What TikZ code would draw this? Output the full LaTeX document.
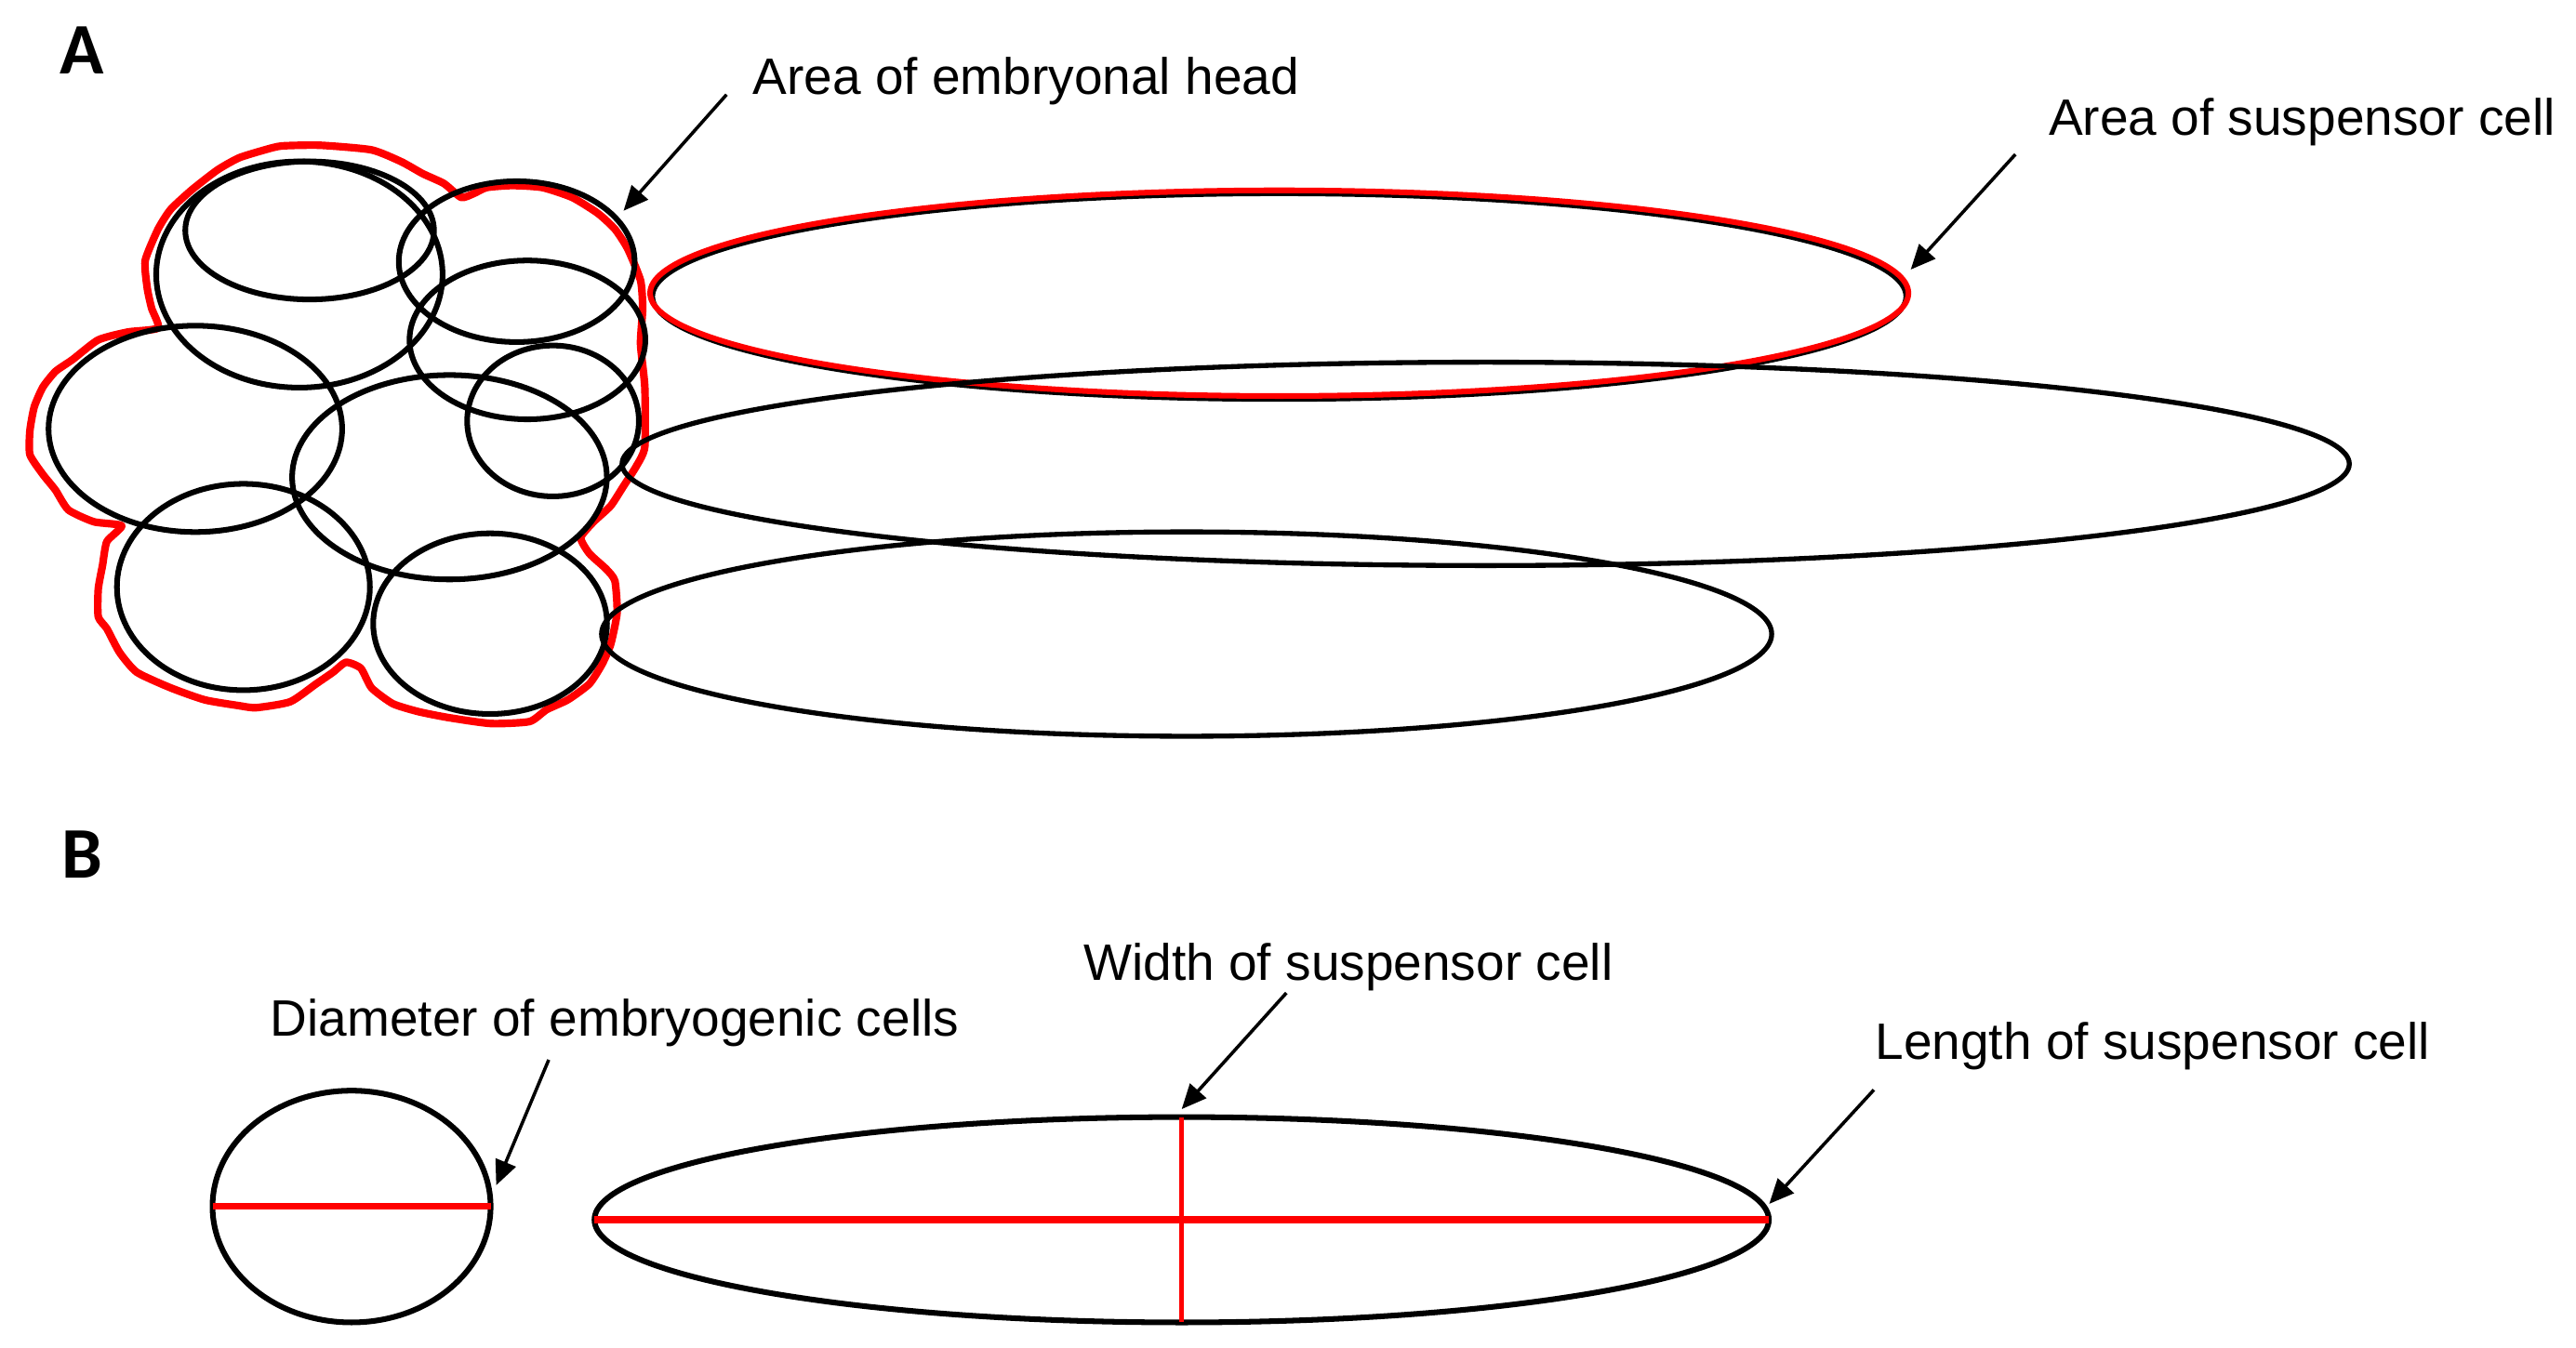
\documentclass[tikz,border=0pt]{standalone}
\usepackage{fontspec}
\setmainfont{Liberation Sans}
\newfontfamily\panelfont{Carlito}
\usetikzlibrary{arrows.meta}
\definecolor{pured}{RGB}{255,0,0}
\tikzset{
  cell/.style={draw=black, line width=3.4pt},
  longcell/.style={draw=black, line width=3pt},
  outline/.style={draw=pured, line width=4.6pt, line join=round},
  redbar/.style={draw=pured, line width=4pt},
  redbarthin/.style={draw=pured, line width=2.8pt},
  lbl/.style={inner sep=0pt, anchor=base west, font=\fontsize{31}{37}\selectfont},
  panel/.style={inner sep=0pt, anchor=base west, font=\panelfont\bfseries\fontsize{44}{50}\selectfont},
  pointer/.style={draw=black, line width=2pt, -{Triangle[length=15pt,width=13pt]}}
}
\begin{document}
\begin{tikzpicture}[x=1pt,y=-1pt]
\useasboundingbox (0,0) rectangle (1560,816.6);
% panel labels
\node[panel] (pA) at (36,45) {A};
\node[panel] (pB) at (37,532) {B};
% red outline of embryonal head
\draw[outline] plot[smooth cycle, tension=0.35] coordinates {
(170.7,88.4) (193.9,88.0) (225.0,90.8) (243.1,98.0) (256.0,105.2) (268.9,111.2)
(279.3,119.6) (287.0,117.2) (294.8,113.6) (310.3,112.4) (328.4,113.6) (346.5,119.6)
(362.0,129.2) (372.4,138.8) (380.1,150.7) (387.9,169.9) (389.2,186.7) (387.9,208.3)
(390.5,234.6) (390.5,270.6) (385.3,282.5) (377.6,294.5) (369.8,306.5) (359.5,316.1)
(351.7,325.7) (356.9,335.3) (367.2,344.8) (372.4,352.0) (373.7,371.2) (369.8,390.4)
(364.6,402.4) (356.9,414.3) (343.9,423.9) (331.0,429.9) (320.7,437.1) (297.4,438.3)
(271.5,434.7) (253.4,431.1) (237.9,426.3) (225.0,416.7) (218.5,404.8) (209.5,401.2)
(201.7,407.2) (191.4,414.3) (175.8,425.1) (155.2,428.7) (144.8,427.5) (124.1,424.0)
(103.4,416.7) (82.8,407.2) (72.4,395.2) (64.7,380.8) (59.5,373.6) (59.5,356.8)
(62.1,342.4) (64.7,328.1) (73.7,318.5) (56.9,316.1) (41.4,308.9) (33.6,296.9)
(25.9,287.3) (18.1,275.4) (18.1,261.0) (20.7,246.6) (25.9,234.6) (33.6,225.0)
(44.0,217.8) (59.5,205.9) (77.6,201.1) (95.7,198.7) (91.8,186.7) (89.2,174.7)
(87.9,157.9) (95.7,138.8) (103.4,126.8) (116.4,114.8) (131.9,102.8) (144.8,95.6)
(160.3,90.8)};
% embryogenic cells
\draw[cell] (187.5,139.6) ellipse [x radius=75.3, y radius=41.8];
\draw[cell] (181.3,166.3) ellipse [x radius=86.7, y radius=68.5];
\draw[cell] (312.9,158.5) ellipse [x radius=71.4, y radius=48.7];
\draw[cell] (319.4,205.9) ellipse [x radius=71.4, y radius=48.1];
\draw[cell] (334.9,255.0) ellipse [x radius=52.0, y radius=45.7];
\draw[cell] (118.3,259.8) ellipse [x radius=88.9, y radius=62.5];
\draw[cell] (272.2,289.1) ellipse [x radius=95.3, y radius=61.9];
\draw[cell] (147.4,355.6) ellipse [x radius=76.6, y radius=62.5];
\draw[cell] (296.8,377.8) ellipse [x radius=70.8, y radius=54.7];
% suspensor cells
\draw[longcell] (774.7,179.6) ellipse [x radius=379.5, y radius=62.3];
\draw[draw=pured, line width=3.4pt] (774.7,177.6) ellipse [x radius=381, y radius=62.3];
\draw[longcell] (899.7,281.0) ellipse [x radius=523, y radius=61.6];
\draw[longcell] (718.6,384.1) ellipse [x radius=354.3, y radius=61.9];
% panel B shapes
\draw[cell] (212.9,730.9) ellipse [x radius=84.2, y radius=70.2];
\draw[redbar] (128.7,730.6) -- (297.1,730.6);
\draw[cell] (715.6,738.9) ellipse [x radius=355.6, y radius=62.2];
\draw[redbar] (360.0,738.9) -- (1071.2,738.9);
\draw[redbarthin] (715.6,676.7) -- (715.6,801.1);
% texts
\node[lbl] (tHead) at (455.7,56.9) {Area of embryonal head};
\node[lbl] (tSusp) at (1240.5,81.7) {Area of suspensor cell};
\node[lbl] (tDiam) at (163.6,627.6) {Diameter of embryogenic cells};
\node[lbl] (tWidth) at (656.1,593.6) {Width of suspensor cell};
\node[lbl] (tLength) at (1135.4,641.5) {Length of suspensor cell};
% pointer coordinates
\coordinate (hS) at (440,57.3);   \coordinate (hE) at (377.6,127.7);
\coordinate (sS) at (1220.5,93.5); \coordinate (sE) at (1157.1,163.3);
\coordinate (dS) at (332.3,642);  \coordinate (dE) at (300.5,718);
\coordinate (wS) at (779,601.5);  \coordinate (wE) at (715.6,671.9);
\coordinate (lS) at (1134.8,660.2); \coordinate (lE) at (1071.4,729.3);
\draw[pointer] (hS) -- (hE);
\draw[pointer] (sS) -- (sE);
\draw[pointer] (dS) -- (dE);
\draw[pointer] (wS) -- (wE);
\draw[pointer] (lS) -- (lE);
\end{tikzpicture}
\end{document}
